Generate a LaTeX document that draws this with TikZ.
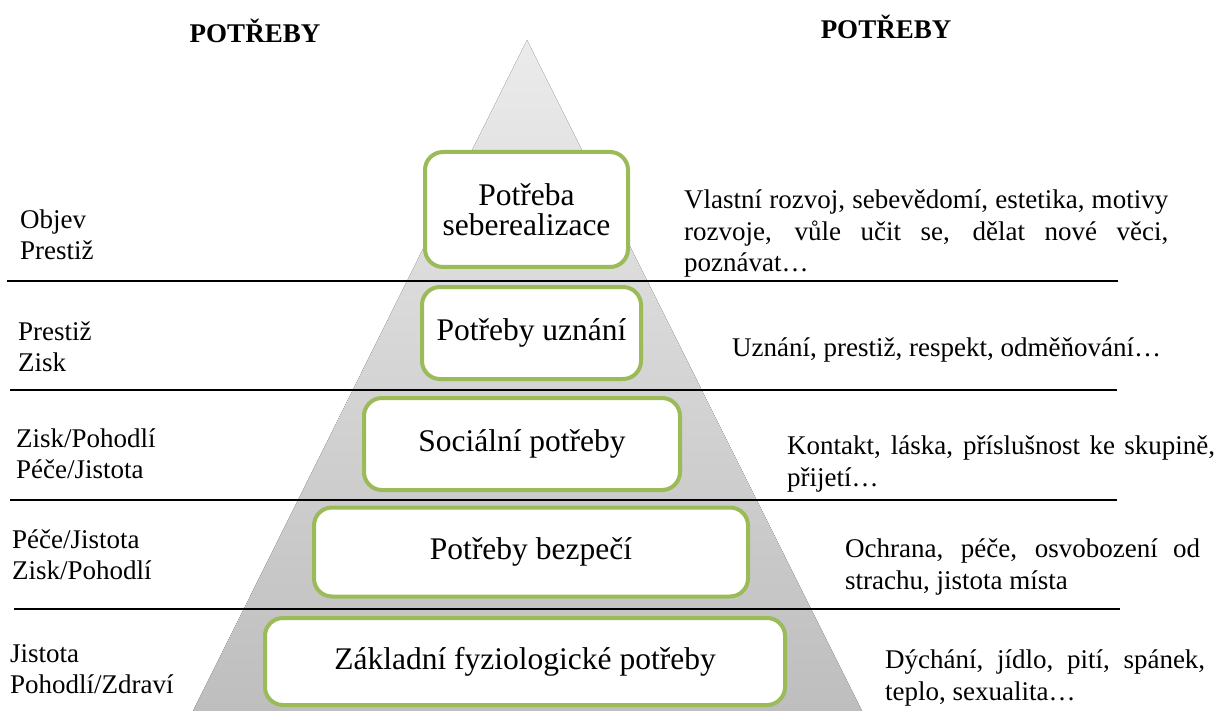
\documentclass[tikz,border=0pt]{standalone}
\usepackage{fontspec}
\setmainfont{Liberation Serif}
\definecolor{leaf}{HTML}{9BBB59}
\definecolor{pyrtop}{HTML}{EBEBEB}
\definecolor{pyrbottom}{HTML}{BEBEBE}
\begin{document}
\begin{tikzpicture}[x=1pt,y=-1pt,
  levelbox/.style={draw=leaf, line width=4pt, rounded corners=18pt, fill=white,
    inner sep=0pt, align=center, font=\fontsize{31.5}{31.5}\selectfont},
  % multi-line nodes: the base anchor sits on the last line
  sidelabel/.style={anchor=base west, inner sep=0pt, align=left,
    font=\fontsize{27}{30.5}\selectfont},
  desc/.style={anchor=base west, inner sep=0pt, align=left,
    font=\fontsize{27}{31.5}\selectfont},
  heading/.style={anchor=base, inner sep=0pt, font=\fontsize{27}{30}\selectfont\bfseries},
  divider/.style={line width=1.8pt, black}]
\useasboundingbox (0,0) rectangle (1220,711);

% pyramid
\fill[top color=pyrtop, bottom color=pyrbottom] (527,40) -- (862,711) -- (193,711) -- cycle;

% level dividers
\draw[divider] (7,281) -- (1118,281);
\draw[divider] (10,390) -- (1117,390);
\draw[divider] (10,500) -- (1117,500);
\draw[divider] (14,609) -- (1120,609);

% headings
\node[heading] (hl) at (255,43) {POTŘEBY};
\node[heading] (hr) at (886,39) {POTŘEBY};

% levels of the pyramid
\node[levelbox, minimum width=203, minimum height=115] (b1) at (526.5,209.5) {Potřeba\\[-2pt]seberealizace};
\node[levelbox, minimum width=219, minimum height=92] (b2) at (531.5,333) {Potřeby uznání};
\node[levelbox, minimum width=316, minimum height=92] (b3) at (522,444) {Sociální potřeby};
\node[levelbox, minimum width=434, minimum height=89] (b4) at (531,552) {Potřeby bezpečí};
\node[levelbox, minimum width=520, minimum height=87] (b5) at (525,661.5) {Základní fyziologické potřeby};

% left-hand labels
\node[sidelabel] (l1) at (20,259) {Objev\\Prestiž};
\node[sidelabel] (l2) at (18,371) {Prestiž\\Zisk};
\node[sidelabel] (l3) at (16,478) {Zisk/Pohodlí\\Péče/Jistota};
\node[sidelabel] (l4) at (12,579) {Péče/Jistota\\Zisk/Pohodlí};
\node[sidelabel] (l5) at (10,693) {Jistota\\Pohodlí/Zdraví};

% right-hand descriptions
\node[desc] (r1) at (684,272) {\makebox[484pt][s]{Vlastní rozvoj, sebevědomí, estetika, motivy}\\
  \makebox[484pt][s]{rozvoje, vůle učit se, dělat nové věci,}\\poznávat…};
\node[desc] (r2) at (732,356) {Uznání, prestiž, respekt, odměňování…};
\node[desc] (r3) at (787,486) {\makebox[428pt][s]{Kontakt, láska, příslušnost ke skupině,}\\přijetí…};
\node[desc] (r4) at (845,589) {\makebox[355pt][s]{Ochrana, péče, osvobození od}\\strachu, jistota místa};
\node[desc] (r5) at (885,700) {\makebox[320pt][s]{Dýchání, jídlo, pití, spánek,}\\teplo, sexualita…};
\end{tikzpicture}
\end{document}
